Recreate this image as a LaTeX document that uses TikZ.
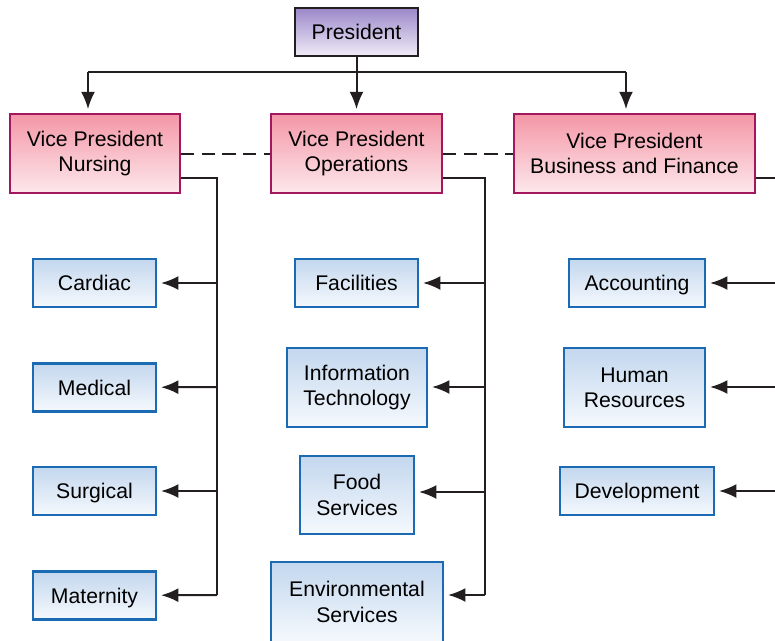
\documentclass[tikz,border=0pt]{standalone}
\usepackage{fontspec}
\setmainfont{Liberation Sans}
\usetikzlibrary{arrows.meta}
\definecolor{roseH}{HTML}{F496A6}
\definecolor{roseB}{HTML}{FDE8EC}
\definecolor{roseT}{HTML}{A3175E}
\definecolor{mauveH}{HTML}{9B88C9}
\definecolor{mauveB}{HTML}{F0ECF8}
\definecolor{bleuH}{HTML}{C3D7EE}
\definecolor{bleuB}{HTML}{F5F9FD}
\definecolor{bleuT}{HTML}{1A6AB4}
\definecolor{trait}{HTML}{231F20}
\begin{document}
\begin{tikzpicture}[x=0.75pt,y=-0.75pt]
		\tikzstyle{fleche}=[-{Latex[length=13pt,width=10.5pt]},line width=1.5pt,draw=trait,shorten >=3pt]
		\tikzstyle{ligne}=[line width=1.5pt,draw=trait]
		\tikzstyle{tirets}=[line width=1.5pt,draw=trait,dash pattern=on 10pt off 5.5pt]
		\tikzstyle{boite}=[rectangle,align=center,inner sep=0pt,font=\fontsize{15.9}{19}\selectfont,text=black]
		\tikzstyle{uneligne}=[text height=11.4pt,text depth=0pt,minimum height=36pt]
		\tikzstyle{president}=[boite,uneligne,draw=trait,line width=1.3pt,top color=mauveH,bottom color=mauveB]
		\tikzstyle{vp}=[boite,draw=roseT,line width=1.3pt,top color=roseH,bottom color=roseB,minimum height=59.25pt]
		\tikzstyle{service}=[boite,draw=bleuT,line width=1.6pt,top color=bleuH,bottom color=bleuB]
		\def\BusN{217}
		\def\BusO{485}
		\def\BusB{790}
		\def\NiveauDep{178}
		\useasboundingbox (0,0) rectangle (775,640);
		\clip (0,0) rectangle (775,640);
		% direction
		\node[president,minimum width=92.25pt] (pres) at (356.5,32) {President};
		\node[vp,minimum width=127.5pt] (vpn) at (95,153.5) {Vice President\\Nursing};
		\node[vp,minimum width=128.25pt] (vpo) at (356.5,153.5) {Vice President\\Operations};
		\node[vp,minimum width=180.75pt] (vpb) at (634.5,153.5) {Vice President\\Business and Finance};
		% services
		\node[service,uneligne,minimum width=92.25pt] (card) at (94.5,283) {Cardiac};
		\node[service,uneligne,minimum width=92.25pt] (med) at (94.5,387.5) {Medical};
		\node[service,uneligne,minimum width=92.25pt] (surg) at (94.5,491) {Surgical};
		\node[service,uneligne,minimum width=92.25pt] (mat) at (94.5,595.5) {Maternity};
		\node[service,uneligne,minimum width=92.25pt] (fac) at (356.5,283) {Facilities};
		\node[service,minimum width=105pt,minimum height=59.25pt] (info) at (357,387.5) {Information\\Technology};
		\node[service,minimum width=85.5pt,minimum height=58.5pt] (food) at (357,495) {Food\\Services};
		\node[service,minimum width=129pt,minimum height=60pt] (env) at (357,602) {Environmental\\Services};
		\node[service,uneligne,minimum width=102pt] (acc) at (637,283) {Accounting};
		\node[service,minimum width=105.75pt,minimum height=59.25pt] (hr) at (634.5,387.5) {Human\\Resources};
		\node[service,uneligne,minimum width=115.5pt] (dev) at (637,491) {Development};
		% liaisons du president
		\coordinate (hg) at (88,72);
		\coordinate (hc) at (356.5,72);
		\coordinate (hd) at (626,72);
		\draw[ligne] (hg) -- (hd);
		\draw[fleche] (pres) -- (vpo);
		\draw[fleche] (hg) -- (hg |- vpn.north);
		\draw[fleche] (hd) -- (hd |- vpb.north);
		\draw[tirets] (vpn.east) -- (vpo.west);
		\draw[tirets] (vpo.east) -- (vpb.west);
		% bus nursing
		\coordinate (n0) at (\BusN,\NiveauDep);
		\coordinate (n1) at (\BusN,283);
		\coordinate (n2) at (\BusN,387);
		\coordinate (n3) at (\BusN,491);
		\coordinate (n4) at (\BusN,595);
		\draw[ligne] (vpn.east |- n0) -- (n0) -- (n4);
		\draw[fleche] (n1) -- (card);
		\draw[fleche] (n2) -- (med);
		\draw[fleche] (n3) -- (surg);
		\draw[fleche] (n4) -- (mat);
		% bus operations
		\coordinate (o0) at (\BusO,\NiveauDep);
		\coordinate (o1) at (\BusO,283);
		\coordinate (o2) at (\BusO,387);
		\coordinate (o3) at (\BusO,492);
		\coordinate (o4) at (\BusO,595);
		\draw[ligne] (vpo.east |- o0) -- (o0) -- (o4);
		\draw[fleche] (o1) -- (fac);
		\draw[fleche] (o2) -- (info.east |- o2);
		\draw[fleche] (o3) -- (food.east |- o3);
		\draw[fleche] (o4) -- (env.east |- o4);
		% bus business
		\coordinate (b0) at (\BusB,\NiveauDep);
		\coordinate (b1) at (\BusB,283);
		\coordinate (b2) at (\BusB,387);
		\coordinate (b3) at (\BusB,491);
		\draw[ligne] (vpb.east |- b0) -- (b0) -- (b3);
		\draw[fleche] (b1) -- (acc);
		\draw[fleche] (b2) -- (hr.east |- b2);
		\draw[fleche] (b3) -- (dev);
	\end{tikzpicture}
\end{document}
